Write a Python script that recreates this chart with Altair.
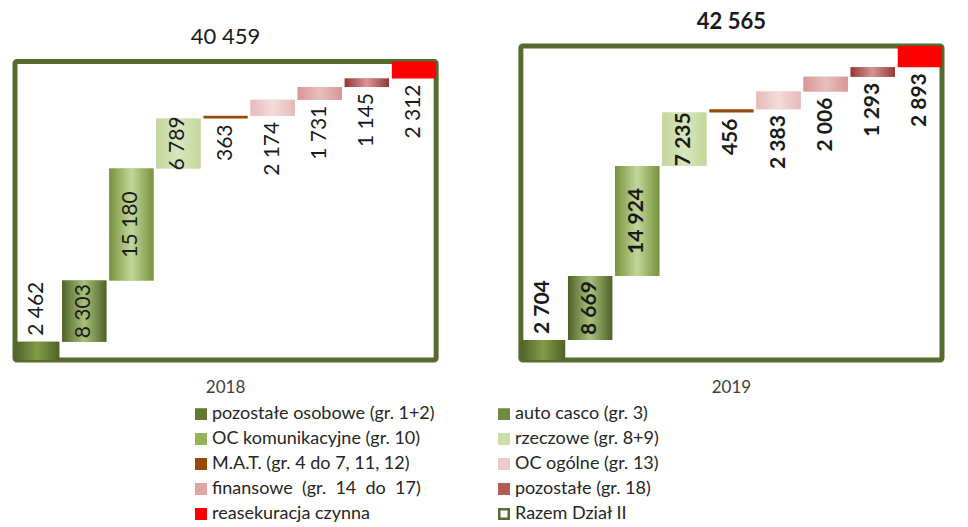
import altair as alt
import pandas as pd

# ---------------- data ----------------
YEARS = ["2018", "2019"]
CATEGORIES = [
    "pozostałe osobowe (gr. 1+2)",
    "auto casco (gr. 3)",
    "OC komunikacyjne (gr. 10)",
    "rzeczowe (gr. 8+9)",
    "M.A.T. (gr. 4 do 7, 11, 12)",
    "OC ogólne (gr. 13)",
    "finansowe\u00a0 (gr.\u00a0 14\u00a0 do\u00a0 17)",
    "pozostałe (gr. 18)",
    "reasekuracja czynna",
]
TOTAL_NAME = "Razem Dział II"
VALUES_2018 = [2462, 8303, 15180, 6789, 363, 2174, 1731, 1145, 2312]
VALUES_2019 = [2704, 8669, 14924, 7235, 456, 2383, 2006, 1293, 2893]
TOTALS = [40459, 42565]
LABEL_POS = ["above", "inside", "inside", "inside", "below", "below", "below", "below", "below"]

# ---------------- styles ----------------
FILL_COLORS = ["#5f7a30", "#6e8a3e", "#95b25a", "#cddfa8", "#984807",
               "#ecc9c8", "#dea5a4", "#b35b59", "#ff0000", "#ffffff"]
STROKE_COLORS = FILL_COLORS[:-1] + ["#556b2f"]
GRADIENTS = {
    CATEGORIES[0]: ("#4f6228", "#809d46"),
    CATEGORIES[1]: ("#4f6228", "#a9c17a"),
    CATEGORIES[2]: ("#77933c", "#c3d69b"),
    CATEGORIES[3]: ("#c3d69b", "#d9e6bf"),
    CATEGORIES[5]: ("#e6b9b8", "#f2dcdb"),
    CATEGORIES[6]: ("#d99694", "#e8bfbe"),
    CATEGORIES[7]: ("#953735", "#d99694"),
}
YEAR_WEIGHT = {"2018": "normal", "2019": "bold"}
FONT = "Lato"


def fmt(v):
    return f"{v:,}".replace(",", " ")


rows = []
for year, vals in zip(YEARS, [VALUES_2018, VALUES_2019]):
    cum = 0
    for cat, v, pos in zip(CATEGORIES, vals, LABEL_POS):
        rows.append(dict(year=year, cat=cat, value=v, start=cum, end=cum + v,
                         mid=cum + v / 2, pos=pos, label=fmt(v)))
        cum += v
seg_df = pd.DataFrame(rows)
box_df = pd.DataFrame(dict(year=YEARS, total=TOTALS, zero=[0, 0],
                           cat=[TOTAL_NAME] * 2, label=[fmt(t) for t in TOTALS]))

ALL_CATS = CATEGORIES + [TOTAL_NAME]

x_enc = alt.X("year:N", scale=alt.Scale(domain=YEARS, paddingInner=0.1675, paddingOuter=0),
              axis=alt.Axis(title=None, labelAngle=0, ticks=False, domain=False,
                            labelFontSize=17, labelPadding=19, labelColor="#404040",
                            labelFont=FONT))
xo_enc = alt.XOffset("cat:N", scale=alt.Scale(domain=CATEGORIES, paddingInner=0.06, paddingOuter=0))
y_scale = alt.Scale(domain=[0, 47700], nice=False, zero=True)

legend = alt.Legend(title=None)
fill_enc = alt.Fill("cat:N", scale=alt.Scale(domain=ALL_CATS, range=FILL_COLORS), legend=legend)
stroke_enc = alt.Stroke("cat:N", scale=alt.Scale(domain=ALL_CATS, range=STROKE_COLORS), legend=legend)

box = alt.Chart(box_df).mark_bar(strokeWidth=5, cornerRadius=2).encode(
    x=x_enc,
    y=alt.Y("total:Q", scale=y_scale, axis=None),
    y2="zero:Q",
    fill=fill_enc,
    stroke=stroke_enc,
)

totals_text = [
    alt.Chart(box_df).transform_filter(alt.datum.year == yr).mark_text(
        baseline="alphabetic", dy=-17, fontSize=22, font=FONT, color="#1a1a1a",
        fontWeight=YEAR_WEIGHT[yr]
    ).encode(
        x=x_enc,
        y=alt.Y("total:Q", scale=y_scale, axis=None),
        text="label:N",
    )
    for yr in YEARS
]

seg = alt.Chart(seg_df).mark_bar().encode(
    x=x_enc,
    xOffset=xo_enc,
    y=alt.Y("start:Q", scale=y_scale, axis=None),
    y2="end:Q",
    fill=fill_enc,
)

overlays = []
for cat, (edge, center) in GRADIENTS.items():
    grad = alt.LinearGradient(
        gradient="linear", x1=0, x2=1, y1=0, y2=0,
        stops=[alt.GradientStop(offset=0, color=edge),
               alt.GradientStop(offset=0.5, color=center),
               alt.GradientStop(offset=1, color=edge)])
    overlays.append(
        alt.Chart(seg_df).transform_filter(alt.datum.cat == cat).mark_bar(fill=grad).encode(
            x=x_enc, xOffset=xo_enc,
            y=alt.Y("start:Q", scale=y_scale, axis=None), y2="end:Q")
    )


def label_layer(yr, pos, field, align, dx):
    return alt.Chart(seg_df).transform_filter(
        (alt.datum.pos == pos) & (alt.datum.year == yr)
    ).mark_text(
        angle=270, align=align, baseline="middle", dx=dx, fontSize=21, font=FONT,
        color="#1a1a1a", fontWeight=YEAR_WEIGHT[yr]
    ).encode(
        x=x_enc, xOffset=xo_enc,
        y=alt.Y(f"{field}:Q", scale=y_scale, axis=None),
        text="label:N",
    )


labels = []
for yr in YEARS:
    labels += [label_layer(yr, "above", "end", "left", 6),
               label_layer(yr, "inside", "mid", "center", 0),
               label_layer(yr, "below", "start", "right", -6)]

chart = alt.layer(box, seg, *overlays, *labels, *totals_text).properties(
    width=927, height=352,
    padding={"left": 4, "top": 0, "right": 0, "bottom": 0},
).configure_view(strokeWidth=0).configure_legend(
    orient="none", legendX=177, legendY=397, direction="horizontal", columns=2,
    columnPadding=59, rowPadding=5, labelFont=FONT, labelFontSize=18,
    labelColor="#262626", symbolType="square", symbolSize=90, symbolStrokeWidth=2.5,
    labelLimit=0, labelOffset=2,
)

chart.save("out.html", embed_options={"renderer": "svg", "actions": False})
